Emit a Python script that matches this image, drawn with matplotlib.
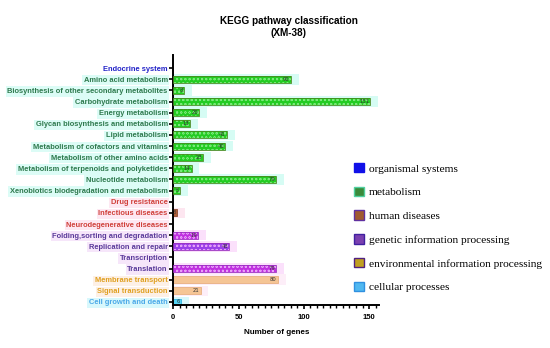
import matplotlib
matplotlib.use("Agg")
import matplotlib.pyplot as plt
from matplotlib.patches import Patch

pathways = [
    "Endocrine system",
    "Amino acid metabolism",
    "Biosynthesis of other secondary metabolites",
    "Carbohydrate metabolism",
    "Energy metabolism",
    "Glycan biosynthesis and metabolism",
    "Lipid metabolism",
    "Metabolism of cofactors and vitamins",
    "Metabolism of other amino acids",
    "Metabolism of terpenoids and polyketides",
    "Nucleotide metabolism",
    "Xenobiotics biodegradation and metabolism",
    "Drug resistance",
    "Infectious diseases",
    "Neurodegenerative diseases",
    "Folding,sorting and degradation",
    "Replication and repair",
    "Transcription",
    "Translation",
    "Membrane transport",
    "Signal transduction",
    "Cell growth and death",
]
genes = [0, 90, 8, 151, 20, 13, 41, 40, 23, 14, 79, 5, 0, 3, 0, 19, 43, 0, 79, 80, 21, 6]
groups = ["org"] + ["met"] * 11 + ["hum"] * 3 + ["gen"] * 4 + ["env"] * 2 + ["cel"]

group_names = ["organismal systems", "metabolism", "human diseases",
               "genetic information processing", "environmental information processing",
               "cellular processes"]

label_col = {"org": "#2323c8", "met": "#2e7a4e", "hum": "#d0403a", "gen": "#5a3a9a",
             "env": "#e0a020", "cel": "#4aa8e8"}
label_bg = {"org": "none", "met": "#dcfcf6", "hum": "#fde8f2", "gen": "#f6e6fa",
            "env": "#fdf0e6", "cel": "#d8f8fc"}
glow = {"org": "none", "met": "#d6fcf4", "hum": "#fde6f0", "gen": "#fbe0fb",
        "env": "#fdeef8", "cel": "#d8f8fc"}
bar_face = {"org": "#1010e0", "met": "#22cc22", "hum": "#b0603a", "gen": "#c030e0",
            "env": "#f5c595", "cel": "#55d5f5"}
bar_edge = {"org": "#1010e0", "met": "#4a8a20", "hum": "#8a4a30", "gen": "#9a30c0",
            "env": "#e8b080", "cel": "#30b0e0"}
hatch_col = {"met": "#7ae87a", "gen": "#e8a0f8"}
bar_faces = [bar_face[g] for g in groups]
bar_faces[16] = "#9a40e8"
legend_face = ["#1010e8", "#3a8a3a", "#a05a30", "#7a40b0", "#c0a020", "#50b8f0"]
legend_edge = ["#1010e8", "#50d0a0", "#6030a0", "#4020a0", "#502080", "#3090e0"]

plt.rcParams["hatch.linewidth"] = 0.4

fig = plt.figure(figsize=(5.5, 3.48), dpi=100)
ax = fig.add_axes([0.315, 0.1236, 0.375, 0.719])

n = len(pathways)
ys = list(range(n))
for y, v, g, fc in zip(ys, genes, groups, bar_faces):
    if v <= 0:
        continue
    if glow[g] != "none":
        ax.barh(y, v + 6, height=0.95, color=glow[g], linewidth=0, zorder=1)
    if g in hatch_col:
        ax.barh(y, v, height=0.62, color=fc, edgecolor=hatch_col[g], linewidth=0,
                hatch="oooo", zorder=2)
        ax.barh(y, v, height=0.62, fill=False, edgecolor=bar_edge[g], linewidth=0.6, zorder=3)
    else:
        ax.barh(y, v, height=0.62, color=fc, edgecolor=bar_edge[g], linewidth=0.6, zorder=2)
    ax.text(v - 0.8, y, str(v), ha="right", va="center", fontsize=3.8, color="#333333", zorder=4)

ax.set_ylim(n - 1 + 0.27, -1.2)
ax.set_xlim(0, 158)
ax.set_yticks(ys)
ax.set_yticklabels(pathways)
for lbl, g in zip(ax.get_yticklabels(), groups):
    lbl.set_color(label_col[g])
    lbl.set_fontsize(5.4)
    lbl.set_fontweight("bold")
    lbl.set_fontfamily("Liberation Sans")
    if label_bg[g] != "none":
        lbl.set_bbox(dict(facecolor=label_bg[g], edgecolor="none", pad=1.2))

ax.set_xticks([0, 50, 100, 150])
ax.set_xticks(range(0, 160, 5), minor=True)
ax.tick_params(axis="x", labelsize=5.5, length=3, width=1.2)
ax.tick_params(axis="x", which="minor", length=2, width=1)
ax.tick_params(axis="y", length=3, width=1.2, pad=1)
for lbl in ax.get_xticklabels():
    lbl.set_fontweight("bold")
    lbl.set_fontfamily("Liberation Sans")
for s in ["top", "right"]:
    ax.spines[s].set_visible(False)
ax.spines["left"].set_linewidth(1.4)
ax.spines["bottom"].set_linewidth(1.4)
ax.set_xlabel("Number of genes", fontsize=5.8, fontweight="bold", family="Liberation Sans",
              labelpad=6)

fig.text(0.525, 0.955, "KEGG pathway classification\n(XM-38)", ha="center", va="top",
         fontsize=7.2, fontweight="bold", family="Liberation Sans", linespacing=1.25)

handles = [Patch(facecolor=f, edgecolor=e, linewidth=1.0) for f, e in zip(legend_face, legend_edge)]
fig.legend(handles, group_names, loc="upper left", bbox_to_anchor=(0.635, 0.545),
           frameon=False, prop={"family": "Liberation Serif", "size": 8.2},
           handlelength=0.9, handleheight=0.9, labelspacing=1.15, handletextpad=0.45,
           borderaxespad=0)

fig.savefig("out.png", dpi=100)
